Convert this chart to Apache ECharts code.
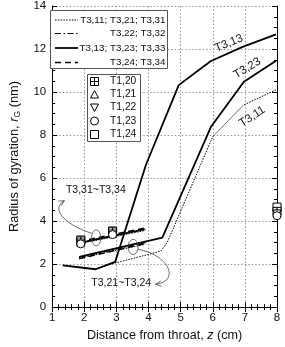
<!DOCTYPE html>
<html>
<head>
<meta charset="utf-8">
<script src="https://cdn.jsdelivr.net/npm/echarts@6/dist/echarts.min.js"></script>
<style>html,body{margin:0;padding:0;background:#fff}#c{width:285px;height:347px}</style>
</head>
<body>
<div id="c"></div>
<script>
// ---- data ----
const xTicks = [1, 2, 3, 4, 5, 6, 7, 8];
const yTicks = [0, 2, 4, 6, 8, 10, 12, 14];

const x_T3_11 = [1.33, 2.35, 2.96, 4.38, 4.58, 6.0, 6.96, 7.97];
const y_T3_11 = [1.94, 1.76, 2.05, 2.6, 3.0, 7.93, 9.4, 10.1];
const x_T3_13 = [1.33, 2.35, 2.96, 3.92, 4.94, 5.93, 6.93, 7.97];
const y_T3_13 = [1.94, 1.76, 2.1, 6.62, 10.32, 11.43, 12.1, 12.68];
const x_T3_23 = [1.84, 4.43, 5.95, 6.97, 7.97];
const y_T3_23 = [2.33, 3.23, 8.4, 10.48, 11.45];
const x_T3_21 = [1.84, 3.9];
const y_T3_21 = [2.27, 2.92];
const x_T3_22 = [1.84, 3.9];
const y_T3_22 = [2.31, 2.99];
const x_T3_24 = [1.84, 3.9];
const y_T3_24 = [2.25, 2.96];
const x_T3_31 = [1.84, 3.9];
const y_T3_31 = [2.95, 3.56];
const x_T3_32 = [1.84, 3.9];
const y_T3_32 = [3.0, 3.63];
const x_T3_33 = [1.89, 3.87];
const y_T3_33 = [3.0, 3.61];
const x_T3_34 = [1.84, 3.9];
const y_T3_34 = [3.05, 3.68];

const x_T1 = [1.89, 2.88, 8.0];
const y_T1_20 = [3.08, 3.5, 4.45];
const y_T1_21 = [3.02, 3.44, 4.38];
const y_T1_22 = [2.98, 3.4, 4.33];
const y_T1_23 = [2.94, 3.37, 4.25];
const y_T1_24 = [3.12, 3.54, 4.65];

const legendLines = ['T3,11; T3,21; T3,31', 'T3,22; T3,32', 'T3,13; T3,23; T3,33', 'T3,24; T3,34'];
const legendMarkers = ['T1,20', 'T1,21', 'T1,22', 'T1,23', 'T1,24'];

// ---- styles ----
const FONT = 'Arial, "Liberation Sans", sans-serif';
const DOT = [1.5, 1.3];
const DASHDOT = [6, 2.5, 1.5, 2.5];
const DASH = [6, 4];
const sqCross = 'path://M0,0L10,0L10,10L0,10Z M5,0L5,10 M0,5L10,5';
const invTri = 'path://M0,0L10,0L5,9Z';

const zip = (xs, ys) => xs.map((x, i) => [x, ys[i]]);

function lineSeries(name, xs, ys, type, width) {
  return {
    name, type: 'line', data: zip(xs, ys), symbol: 'none', clip: false,
    lineStyle: { color: '#000', width: width, type: type }, z: 3, silent: true
  };
}
function markSeries(name, ys, symbol, size) {
  return {
    name, type: 'line', data: zip(x_T1, ys), symbol, symbolSize: size, clip: false,
    lineStyle: { width: 0, opacity: 0 },
    itemStyle: { color: '#fff', borderColor: '#000', borderWidth: 1 }, z: 5, silent: true
  };
}

const chart = echarts.init(document.getElementById('c'), null, { renderer: 'canvas' });

const axisCommon = {
  type: 'value',
  axisLine: { show: true, lineStyle: { color: '#000', width: 1 } },
  axisTick: { show: true, inside: true, length: 5, lineStyle: { color: '#000' } },
  minorTick: { show: true, length: 3, lineStyle: { color: '#000' } },
  splitLine: { show: false },
};

chart.setOption({
  animation: false,
  backgroundColor: '#fff',
  grid: { left: 47, right: 8, top: 6, bottom: 39 },
  xAxis: [
    Object.assign({}, axisCommon, {
      min: 1, max: 8, interval: 1, position: 'bottom',
      minorTick: Object.assign({}, axisCommon.minorTick, { splitNumber: 5 }),
      splitLine: { show: true, lineStyle: { color: '#999', type: [1.5, 2], width: 1 } },
      axisLabel: { color: '#111', fontSize: 11.5, fontFamily: FONT, margin: 5,
        formatter: v => xTicks.includes(v) ? String(v) : '' },
      name: '{n|Distance from throat, }{i|z}{n| (cm)}',
      nameLocation: 'middle', nameGap: 16,
      nameTextStyle: { rich: {
        n: { fontSize: 12.6, fontFamily: FONT, color: '#111' },
        i: { fontSize: 12.6, fontFamily: FONT, color: '#111', fontStyle: 'italic' } } }
    }),
    Object.assign({}, axisCommon, {
      min: 1, max: 8, interval: 1, position: 'top',
      minorTick: Object.assign({}, axisCommon.minorTick, { splitNumber: 5 }),
      axisLabel: { show: false }
    })
  ],
  yAxis: [
    Object.assign({}, axisCommon, {
      min: 0, max: 14, interval: 2, position: 'left',
      minorTick: Object.assign({}, axisCommon.minorTick, { splitNumber: 4 }),
      splitLine: { show: true, lineStyle: { color: '#999', type: [1.5, 2], width: 1 } },
      axisLabel: { color: '#111', fontSize: 11.5, fontFamily: FONT, margin: 6,
        formatter: v => yTicks.includes(v) ? String(v) : '' },
      name: '{n|Radius of gyration, }{i|r}{s|G}{n| (nm)}',
      nameLocation: 'middle', nameGap: 26, nameRotate: 90,
      nameTextStyle: { rich: {
        n: { fontSize: 12.8, fontFamily: FONT, color: '#111' },
        i: { fontSize: 12.8, fontFamily: FONT, color: '#111', fontStyle: 'italic' },
        s: { fontSize: 8.5, fontFamily: FONT, color: '#111', padding: [7, 0, 0, 0] } } }
    }),
    Object.assign({}, axisCommon, {
      min: 0, max: 14, interval: 2, position: 'right',
      minorTick: Object.assign({}, axisCommon.minorTick, { splitNumber: 4 }),
      axisLabel: { show: false }
    })
  ],
  series: [
    lineSeries('T3,11', x_T3_11, y_T3_11, DOT, 1),
    lineSeries('T3,21', x_T3_21, y_T3_21, DOT, 1),
    lineSeries('T3,31', x_T3_31, y_T3_31, DOT, 1),
    lineSeries('T3,22', x_T3_22, y_T3_22, DASHDOT, 1),
    lineSeries('T3,32', x_T3_32, y_T3_32, DASHDOT, 1),
    lineSeries('T3,24', x_T3_24, y_T3_24, DASH, 1.4),
    lineSeries('T3,34', x_T3_34, y_T3_34, DASH, 1.4),
    lineSeries('T3,13', x_T3_13, y_T3_13, 'solid', 1.8),
    lineSeries('T3,23', x_T3_23, y_T3_23, 'solid', 1.8),
    lineSeries('T3,33', x_T3_33, y_T3_33, 'solid', 1.8),
    markSeries('T1,24', y_T1_24, 'rect', 8),
    markSeries('T1,20', y_T1_20, sqCross, 8),
    markSeries('T1,21', y_T1_21, 'triangle', 8),
    markSeries('T1,22', y_T1_22, invTri, 8),
    markSeries('T1,23', y_T1_23, 'circle', 8)
  ]
});

// ---- annotations ----
const P = (x, y) => chart.convertToPixel({ xAxisIndex: 0, yAxisIndex: 0 }, [x, y]);
const g = [];
const txt = (x, y, s) => ({
  type: 'text', x, y, z: 20,
  style: { text: s, fill: '#111', font: '10.5px ' + FONT, textAlign: 'center', textVerticalAlign: 'middle' }
});

// rotated line labels
[[6.5, 12.27, 'T3,13', 22], [7.07, 11.11, 'T3,23', 31], [7.23, 8.86, 'T3,11', 33]].forEach(a => {
  const p = P(a[0], a[1]);
  g.push({ type: 'text', x: p[0], y: p[1], rotation: a[3] * Math.PI / 180, z: 20,
    style: { text: a[2], fill: '#111', font: '11.5px ' + FONT, textAlign: 'center', textVerticalAlign: 'middle' } });
});

// ellipses
[[2.37, 3.22, 4.5, 8], [3.52, 2.8, 5, 7.5]].forEach(e => {
  const p = P(e[0], e[1]);
  g.push({ type: 'ellipse', z: 20, shape: { cx: p[0], cy: p[1], rx: e[2], ry: e[3] },
    style: { fill: 'none', stroke: '#444', lineWidth: 0.8 } });
});

// arrows
function arrow(s, c1, c2, e) {
  const a = P(s[0], s[1]), b = P(c1[0], c1[1]), c = P(c2[0], c2[1]), d = P(e[0], e[1]);
  g.push({ type: 'bezierCurve', z: 20,
    shape: { x1: a[0], y1: a[1], cpx1: b[0], cpy1: b[1], cpx2: c[0], cpy2: c[1], x2: d[0], y2: d[1] },
    style: { fill: 'none', stroke: '#444', lineWidth: 0.8 } });
  const ang = Math.atan2(d[1] - c[1], d[0] - c[0]);
  const L = 6, w = 0.45;
  g.push({ type: 'polyline', z: 20, shape: { points: [
    [d[0] - L * Math.cos(ang - w), d[1] - L * Math.sin(ang - w)], d,
    [d[0] - L * Math.cos(ang + w), d[1] - L * Math.sin(ang + w)]] },
    style: { fill: 'none', stroke: '#444', lineWidth: 0.8 } });
}
arrow([2.235, 3.43], [1.44, 3.8], [0.92, 4.54], [1.38, 4.95]);
arrow([3.67, 2.69], [4.67, 2.41], [4.98, 1.2], [4.22, 1.06]);

{
  const p1 = P(2.36, 5.42), p2 = P(3.15, 1.11);
  g.push(txt(p1[0], p1[1], 'T3,31~T3,34'));
  g.push(txt(p2[0], p2[1], 'T3,21~T3,24'));
}

// legend 1 (line styles)
g.push({ type: 'rect', z: 30, shape: { x: 50.5, y: 10.5, width: 117, height: 58 },
  style: { fill: '#fff', stroke: '#555', lineWidth: 1 } });
const lstyles = [[DOT, 1], [DASHDOT, 1], [null, 1.8], [DASH, 1.4]];
const rowY1 = [20, 33.5, 48, 62.5];
legendLines.forEach((s, i) => {
  g.push({ type: 'line', z: 31, shape: { x1: 55, y1: rowY1[i], x2: 78, y2: rowY1[i] },
    style: { stroke: '#000', lineWidth: lstyles[i][1], lineDash: lstyles[i][0] } });
  g.push({ type: 'text', x: 165.5, y: rowY1[i], z: 31,
    style: { text: s, fill: '#111', font: '9.8px ' + FONT, textAlign: 'right', textVerticalAlign: 'middle' } });
});

// legend 2 (markers)
g.push({ type: 'rect', z: 30, shape: { x: 87.5, y: 74.5, width: 53, height: 67 },
  style: { fill: '#fff', stroke: '#555', lineWidth: 1 } });
const rowY2 = [81.5, 94.5, 107.5, 121, 134.5];
const mstyle = () => ({ fill: '#fff', stroke: '#000', lineWidth: 1 });
legendMarkers.forEach((s, i) => {
  const cy = rowY2[i], cx = 94.5, r = 4;
  if (i === 0) {
    g.push({ type: 'rect', z: 31, shape: { x: cx - r, y: cy - r, width: 2 * r, height: 2 * r }, style: mstyle() });
    g.push({ type: 'line', z: 32, shape: { x1: cx, y1: cy - r, x2: cx, y2: cy + r }, style: { stroke: '#000', lineWidth: 1 } });
    g.push({ type: 'line', z: 32, shape: { x1: cx - r, y1: cy, x2: cx + r, y2: cy }, style: { stroke: '#000', lineWidth: 1 } });
  } else if (i === 1) {
    g.push({ type: 'polygon', z: 31, shape: { points: [[cx, cy - r], [cx + r, cy + r - 0.5], [cx - r, cy + r - 0.5]] }, style: mstyle() });
  } else if (i === 2) {
    g.push({ type: 'polygon', z: 31, shape: { points: [[cx - r, cy - r + 0.5], [cx + r, cy - r + 0.5], [cx, cy + r]] }, style: mstyle() });
  } else if (i === 3) {
    g.push({ type: 'circle', z: 31, shape: { cx, cy, r: r }, style: mstyle() });
  } else {
    g.push({ type: 'rect', z: 31, shape: { x: cx - r, y: cy - r, width: 2 * r, height: 2 * r }, style: mstyle() });
  }
  g.push({ type: 'text', x: 110, y: cy, z: 31,
    style: { text: s, fill: '#111', font: '10.3px ' + FONT, textAlign: 'left', textVerticalAlign: 'middle' } });
});

chart.setOption({ graphic: g });
</script>
</body>
</html>
